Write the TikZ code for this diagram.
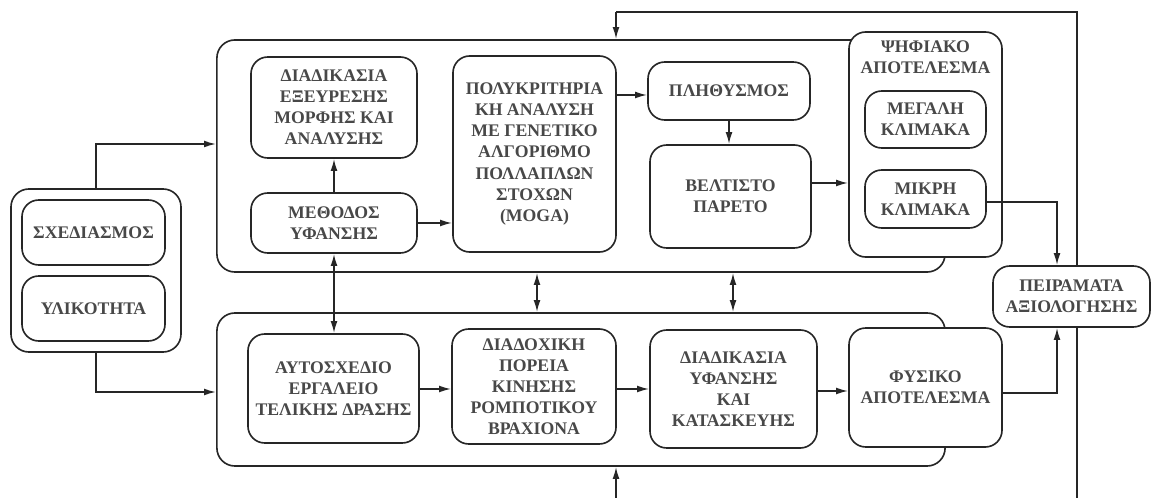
\documentclass[tikz,border=0pt]{standalone}
\usepackage{fontspec}
\setmainfont{Liberation Serif}
\usepackage{tikz}
\usetikzlibrary{arrows.meta}
\usetikzlibrary{positioning}
\definecolor{boxline}{RGB}{38,38,38}
\definecolor{boxtext}{RGB}{72,72,72}

\begin{document}
\begin{tikzpicture}[x=0.025cm,y=-0.025cm,
    line width=1.15pt, draw=boxline,
    blk/.style={draw=boxline,fill=white,rounded corners=0.42cm,inner sep=0pt,
      align=center,text=boxtext,font=\fontsize{12.6}{15}\selectfont\bfseries},
    grp/.style={draw=boxline,rounded corners=0.45cm,inner sep=0pt},
    arr/.style={-{Latex[length=3mm,width=1.7mm]},boxline},
    darr/.style={{Latex[length=3mm,width=1.7mm]}-{Latex[length=3mm,width=1.7mm]},boxline}]
    \useasboundingbox (0,0) rectangle (1152,498);
    % feedback loop (its lower part runs off the page)
    \coordinate (fbright) at (1077,498);
    \coordinate (fbtop) at (1077,12);
    \coordinate (fbbot) at (616,498);
    \draw[boxline] (fbright) -- (fbtop) -- (616,12);
    % the three groups
    \node[grp,minimum width=4.25cm,minimum height=4.075cm] (inputs) at (96,270.5) {};
    \node[grp,minimum width=18.2cm,minimum height=5.8cm] (upgrp) at (581,156) {};
    \node[grp,minimum width=18.2cm,minimum height=3.825cm] (lowgrp) at (581,389.5) {};
    % inputs
    \node[blk,minimum width=3.575cm,minimum height=1.625cm] (plan) at (93.5,232.5) {ΣΧΕΔΙΑΣΜΟΣ};
    \node[blk,minimum width=3.575cm,minimum height=1.625cm] (matter) at (93.5,308.5) {ΥΛΙΚΟΤΗΤΑ};
    % digital chain
    \node[blk,minimum width=4.15cm,minimum height=2.525cm] (formfind) at (334,107.5)
      {ΔΙΑΔΙΚΑΣΙΑ\\ΕΞΕΥΡΕΣΗΣ\\ΜΟΡΦΗΣ ΚΑΙ\\ΑΝΑΛΥΣΗΣ};
    \node[blk,minimum width=4.15cm,minimum height=1.5cm] (weave) at (334,223) {ΜΕΘΟΔΟΣ\\ΥΦΑΝΣΗΣ};
    \node[blk,minimum width=4.075cm,minimum height=4.9cm] (moga) at (534.5,154)
      {ΠΟΛΥΚΡΙΤΗΡΙΑ\\ΚΗ ΑΝΑΛΥΣΗ\\ΜΕ ΓΕΝΕΤΙΚΟ\\ΑΛΓΟΡΙΘΜΟ\\ΠΟΛΛΑΠΛΩΝ\\ΣΤΟΧΩΝ\\(MOGA)};
    \node[blk,minimum width=4.05cm,minimum height=1.45cm] (popul) at (729,91) {ΠΛΗΘΥΣΜΟΣ};
    \node[blk,minimum width=4.025cm,minimum height=2.575cm] (pareto) at (730.5,196.5) {ΒΕΛΤΙΣΤΟ\\ΠΑΡΕΤΟ};
    \node[blk,minimum width=3.825cm,minimum height=5.625cm] (digital) at (925.5,144.5) {};
    \node[blk,draw=none,fill=none] (digtitle) at (925.5,57) {ΨΗΦΙΑΚΟ\\ΑΠΟΤΕΛΕΣΜΑ};
    \node[blk,minimum width=3.025cm,minimum height=1.425cm] (large) at (925.5,119.5) {ΜΕΓΑΛΗ\\ΚΛΙΜΑΚΑ};
    \node[blk,minimum width=3.025cm,minimum height=1.45cm] (small) at (925.5,199) {ΜΙΚΡΗ\\ΚΛΙΜΑΚΑ};
    % physical chain
    \node[blk,minimum width=4.275cm,minimum height=2.725cm] (tool) at (333.5,388.5)
      {ΑΥΤΟΣΧΕΔΙΟ\\ΕΡΓΑΛΕΙΟ\\ΤΕΛΙΚΗΣ ΔΡΑΣΗΣ};
    \node[blk,minimum width=4.1cm,minimum height=2.875cm] (robot) at (534,386.5)
      {ΔΙΑΔΟΧΙΚΗ\\ΠΟΡΕΙΑ\\ΚΙΝΗΣΗΣ\\ΡΟΜΠΟΤΙΚΟΥ\\ΒΡΑΧΙΟΝΑ};
    \node[blk,minimum width=4.175cm,minimum height=2.95cm] (fabric) at (733.5,389)
      {ΔΙΑΔΙΚΑΣΙΑ\\ΥΦΑΝΣΗΣ\\ΚΑΙ\\ΚΑΤΑΣΚΕΥΗΣ};
    \node[blk,minimum width=3.825cm,minimum height=2.975cm] (physical) at (925.5,387.5) {ΦΥΣΙΚΟ\\ΑΠΟΤΕΛΕΣΜΑ};
    % evaluation
    \node[blk,minimum width=3.925cm,minimum height=1.525cm] (tests) at (1071.5,296.5) {ΠΕΙΡΑΜΑΤΑ\\ΑΞΙΟΛΟΓΗΣΗΣ};
    % connectors
    \draw[arr] (inputs.north) |- (upgrp.west |- 0,144);
    \draw[arr] (inputs.south) |- (lowgrp.west |- 0,392);
    \draw[arr] (weave.north) -- (formfind.south);
    \draw[arr] (weave.east) -- (moga.west |- weave.east);
    \draw[arr] (moga.east |- 0,95) -- (popul.west |- 0,95);
    \draw[arr] (popul.south) -- (popul.south |- pareto.north);
    \draw[arr] (pareto.east |- 0,183) -- (digital.west |- 0,183);
    \draw[arr] (small.east |- 0,202) -| (1057,0 |- tests.north);
    \draw[arr] (physical.east |- 0,393) -| (1057,0 |- tests.south);
    \draw[darr] (weave.south) -- (weave.south |- tool.north);
    \draw[darr] (537,0 |- upgrp.south) -- (537,0 |- lowgrp.north);
    \draw[darr] (733,0 |- upgrp.south) -- (733,0 |- lowgrp.north);
    \draw[arr] (tool.east |- 0,389) -- (robot.west |- 0,389);
    \draw[arr] (robot.east |- 0,389) -- (fabric.west |- 0,389);
    \draw[arr] (fabric.east |- 0,391) -- (physical.west |- 0,391);
    \draw[arr] (616,12) -- (616,0 |- upgrp.north);
    \draw[arr] (fbbot) -- (fbbot |- lowgrp.south);
  \end{tikzpicture}
\end{document}
